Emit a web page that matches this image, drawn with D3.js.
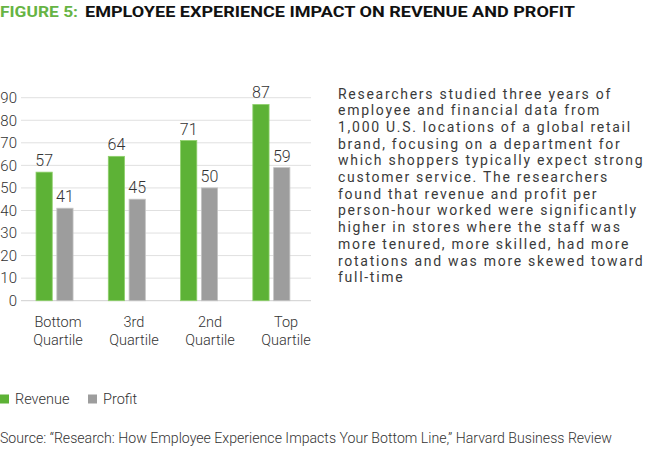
<!DOCTYPE html>
<html><head><meta charset="utf-8">
<script src="https://cdn.jsdelivr.net/npm/d3@7"></script>
<style>
body{margin:0;background:#fff;}
text{font-family:Roboto,"Noto Sans",sans-serif;}
</style></head>
<body><svg id="c" width="648" height="449"></svg>
<script>
const categories = ["Bottom Quartile","3rd Quartile","2nd Quartile","Top Quartile"];
const categoryLines = [["Bottom","Quartile"],["3rd","Quartile"],["2nd","Quartile"],["Top","Quartile"]];
const seriesNames = ["Revenue","Profit"];
const revenue = [57,64,71,87];
const profit = [41,45,50,59];
const yTicks = [0,10,20,30,40,50,60,70,80,90];
const titleLead = "FIGURE 5:";
const titleRest = "EMPLOYEE EXPERIENCE IMPACT ON REVENUE AND PROFIT";
const bodyLines = [
 "Researchers studied three years of",
 "employee and financial data from",
 "1,000 U.S. locations of a global retail",
 "brand, focusing on a department for",
 "which shoppers typically expect strong",
 "customer service. The researchers",
 "found that revenue and profit per",
 "person-hour worked were significantly",
 "higher in stores where the staff was",
 "more tenured, more skilled, had more",
 "rotations and was more skewed toward",
 "full-time"
];
const sourceText = "Source: \u201cResearch: How Employee Experience Impacts Your Bottom Line,\u201d Harvard Business Review";

const colors = {Revenue:"#5db236", Profit:"#9d9d9d"};
const strokes = {Revenue:"#8fd06c", Profit:"#c4c4c4"};
const svg = d3.select("#c");

// Title
svg.append("text").attr("x",0).attr("y",17).attr("font-size",14).attr("font-weight",700)
  .attr("fill","#66b444").attr("textLength",78).attr("lengthAdjust","spacingAndGlyphs").text(titleLead);
svg.append("text").attr("x",85).attr("y",17).attr("font-size",14).attr("font-weight",700)
  .attr("fill","#111").attr("textLength",490).attr("lengthAdjust","spacingAndGlyphs").text(titleRest);

// Scales
const x0 = d3.scaleBand().domain(categories).range([17.95,307.95]).paddingInner(0.4875).paddingOuter(0.25);
const x1 = d3.scaleBand().domain(seriesNames).range([0,x0.bandwidth()]).paddingInner(0.22);
const y = d3.scaleLinear().domain([0,90]).range([300.7,97.7]);
const xl = d3.scaleBand().domain(categories).range([20,324]);

// Gridlines
svg.append("g").selectAll("line").data(yTicks).join("line")
  .attr("x1",21).attr("x2",311).attr("y1",d=>y(d)).attr("y2",d=>y(d))
  .attr("stroke",d=>d===0?"#cfcfcf":"#e0e0e0").attr("stroke-width",1);

// Y axis labels
const yAxis = d3.axisLeft(y).tickValues(yTicks).tickSize(0).tickPadding(0);
const ya = svg.append("g").attr("transform","translate(17,0)").call(yAxis);
ya.select(".domain").remove();
ya.selectAll("text").attr("font-size",15).attr("font-weight",300).attr("fill","#333")
  .attr("font-family","Roboto");

// Bars
const rows = categories.map((c,i)=>({cat:c, vals:[{s:"Revenue",v:revenue[i]},{s:"Profit",v:profit[i]}]}));
const g = svg.append("g").selectAll("g").data(rows).join("g")
  .attr("transform",d=>`translate(${x0(d.cat)},0)`);
g.selectAll("rect").data(d=>d.vals).join("rect")
  .attr("x",d=>x1(d.s)).attr("width",x1.bandwidth())
  .attr("y",d=>y(d.v)).attr("height",d=>y(0)-y(d.v))
  .attr("fill",d=>colors[d.s]).attr("stroke",d=>strokes[d.s]).attr("stroke-width",0.8);
g.selectAll("text").data(d=>d.vals).join("text")
  .attr("x",d=>x1(d.s)+x1.bandwidth()/2).attr("y",d=>y(d.v)-6)
  .attr("text-anchor","middle").attr("font-size",16).attr("font-weight",300).attr("fill","#333")
  .text(d=>d.v);

// Category labels
categories.forEach((c,i)=>{
  const t = svg.append("text").attr("x",xl(c)+xl.bandwidth()/2).attr("y",327)
    .attr("text-anchor","middle").attr("font-size",14.5).attr("font-weight",300).attr("fill","#333");
  categoryLines[i].forEach((ln,j)=>{
    t.append("tspan").attr("x",xl(c)+xl.bandwidth()/2).attr("dy",j===0?0:18).text(ln);
  });
});

// Legend
const legX = [0,88];
seriesNames.forEach((s,i)=>{
  svg.append("rect").attr("x",legX[i]).attr("y",394.5).attr("width",9).attr("height",9).attr("fill",colors[s]);
  svg.append("text").attr("x",legX[i]+15).attr("y",404).attr("font-size",14.5).attr("font-weight",300)
    .attr("fill","#333").text(s);
});

// Body text
const bt = svg.append("text").attr("x",338).attr("y",98.5).attr("font-size",14).attr("font-weight",400)
  .attr("fill","#3a3a3a").attr("letter-spacing","1.72px");
bodyLines.forEach((ln,i)=>{
  bt.append("tspan").attr("x",338).attr("y",98.5+i*16.7).text(ln);
});

// Source
svg.append("text").attr("x",0).attr("y",443).attr("font-size",14).attr("font-weight",300).attr("fill","#333")
  .attr("textLength",612).attr("lengthAdjust","spacingAndGlyphs").text(sourceText);
</script></body></html>
